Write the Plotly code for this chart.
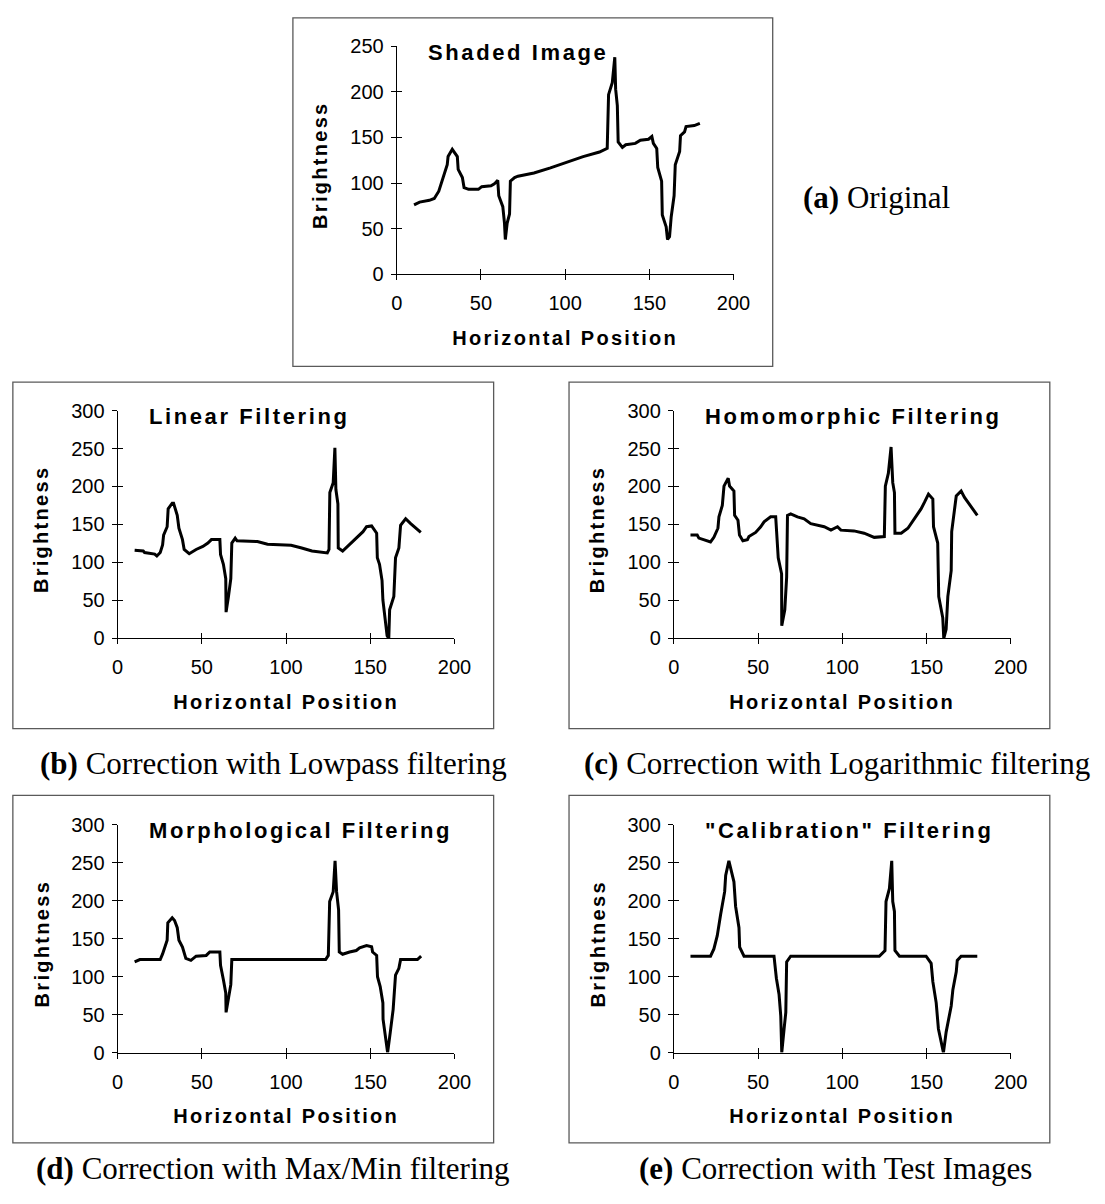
import plotly.graph_objects as go

W, H = 1105, 1204

# ---------------- data ----------------
x_ticks = [0, 50, 100, 150, 200]
y_ticks_a = [0, 50, 100, 150, 200, 250]
y_ticks = [0, 50, 100, 150, 200, 250, 300]

x_a = [10.3, 13.6, 19.4, 22.3, 25, 27, 30, 30.5, 33, 36, 36.5, 39, 40, 42.7, 48.5, 50.5, 56, 58, 60, 60.6,
       63, 64, 64.5, 65.6, 67, 67.5, 70, 72, 81.5, 91.3, 101, 110.7, 120.4, 125, 125.8, 128, 129.5, 130, 131,
       131.5, 134, 136, 141.7, 144.7, 149.5, 151.5, 152.4, 154.4, 155, 157.3, 157.7, 160, 160.8, 162, 163,
       164.7, 165.4, 168, 168.5, 170.9, 171.8, 176.7, 180]
y_a = [76, 79, 81, 83, 91, 102, 120, 129, 137, 129, 115, 106, 95, 93, 93, 96, 97, 99, 103, 86,
       74, 56, 38, 56, 66, 102, 106, 107.5, 111, 116.6, 123, 129, 134, 138, 197, 210, 238, 203, 185,
       145, 139, 142, 143.5, 147, 148, 151, 143.5, 138, 117, 102, 65, 52, 38, 41, 63,
       86, 120, 134.5, 152, 156, 162, 163, 165.5]

x_b = [10.1, 15.2, 16, 22, 23.3, 25.3, 26.7, 27.3, 29.4, 30, 32.4, 33.2, 35.4, 36.4, 38.5, 39.5, 42.5, 46.6,
       50.6, 53.6, 55.7, 60.7, 61.1, 62.8, 64.2, 64.4, 65.8, 67.2, 67.8, 69.8, 70.9, 83, 89, 103, 109.3,
       115.4, 124.5, 125.5, 126, 128, 129, 129.6, 130.8, 131, 133.6, 137.7, 141.7, 145.7, 147.8, 150.8,
       153.8, 154.2, 155.5, 157, 157.5, 159, 160, 161, 161.5, 164, 165, 167, 168, 171, 174, 180]
y_b = [116, 115, 113, 111, 108.5, 113, 123, 136, 147, 170.5, 178, 178, 162, 145, 130, 117, 111.5, 117,
       121, 125.5, 130, 130, 110.5, 97.5, 78.5, 34.5, 55, 78.5, 125.5, 132, 128.5, 127.5, 124, 122.5, 119,
       115, 112.5, 117, 192, 205, 251, 196, 177, 119, 115, 123.5, 132, 140.5, 147, 148,
       138.5, 106, 97.5, 76, 50.5, 22.5, 3.5, 0, 37.5, 55, 106, 119, 149, 157.5, 151, 139.5]

x_c = [9.9, 13.9, 14.9, 17.9, 21.8, 23.8, 26.2, 26.8, 28.8, 29.8, 32.3, 33.1, 35.7, 36.1, 38.1, 39, 41, 43.7,
       44.6, 48.6, 51.6, 53.6, 57.5, 60.5, 61, 62, 64, 64.1, 65.9, 67, 67.5, 69.4, 73.4, 77.4, 81.3, 89.3,
       93.3, 97.2, 99.2, 107, 113, 119, 125, 125.6, 127.4, 129, 130, 131, 131.3, 135, 139, 142.9, 146.8,
       148.8, 151.2, 153.8, 154.2, 156.7, 157.3, 159.7, 160.3, 161.7, 162.7, 164.7, 165, 167.7, 170.6,
       172.6, 176.6, 180.2]
y_c = [136, 136, 132, 130, 127, 133, 145, 160, 175, 200.5, 211, 200.5, 194, 162, 155.5, 136, 128.5, 130,
       134, 139.5, 147, 153.5, 160, 160, 136, 106, 85, 16.5, 37.5, 80.5, 162, 164, 160, 157.5, 151, 147,
       142.5, 147, 142.5, 141.5, 138.5, 133, 134, 200.5, 217.5, 252, 205, 192, 138.5, 138.5, 145, 157.5, 170.5,
       179, 190, 183.5, 147, 125.5, 55, 27, 0, 12, 55, 89, 140.5, 187.5, 194,
       185.5, 172.5, 162]

x_d = [10.1, 13.2, 25.3, 26.7, 29.4, 29.8, 32.4, 33.8, 35.4, 36.4, 38.5, 40.5, 43.5, 46.6, 52.6, 54.7, 60.7,
       61.1, 62.8, 64.2, 64.4, 65.8, 67.2, 67.8, 123.5, 125.1, 125.9, 128, 129.1, 130, 131.2, 131.6, 133.6,
       137.7, 141.7, 143.7, 147.8, 150.8, 151.4, 153.8, 154.3, 155.9, 157.5, 157.6, 159, 160.3, 161.9,
       163.6, 165, 167, 168, 178, 180.2]
y_d = [119.5, 122.5, 122.5, 130, 148, 171, 177.5, 174, 164.5, 148, 139, 124, 121.5, 127, 128, 132.5, 132.5,
       115, 96, 78.5, 53, 74.5, 89.5, 122.5, 122.5, 128, 199, 212, 252.5, 212, 188, 132.5, 129.5,
       132.5, 134.5, 138, 141, 139.5, 132.5, 128, 100, 87, 65.5, 44, 23, 0, 27,
       57, 102, 111, 122.5, 122.5, 127]

x_e = [9.9, 21.8, 23.8, 25.8, 27.8, 30.2, 30.8, 32.7, 35.7, 36.7, 38.7, 39.1, 41.7, 59.5, 60.9, 62.5, 63.5,
       64.1, 65.5, 66.5, 67, 69.4, 122, 125.4, 126, 128, 129.4, 130, 131, 131.3, 134, 149.8, 152.8, 153.8,
       155.8, 157.1, 160.1, 161.7, 164.7, 165.7, 167.7, 168.3, 170.6, 180.2]
y_e = [127, 127, 136.5, 154, 182, 212, 233.5, 252.5, 225, 192.5, 164.5, 139, 127, 127, 98, 76.5, 48.5,
       0, 31.5, 53, 119.5, 127, 127, 134.5, 199, 216, 252.5, 199, 186, 134.5, 127, 127, 117.5, 93.5,
       65.5, 31.5, 0, 27, 61.5, 83, 106.5, 121.5, 127, 127]

titles = ["Shaded Image", "Linear Filtering", "Homomorphic Filtering",
          "Morphological Filtering", "\"Calibration\" Filtering"]
captions = ["<b>(a)</b> Original",
            "<b>(b)</b> Correction with Lowpass filtering",
            "<b>(c)</b> Correction with Logarithmic filtering",
            "<b>(d)</b> Correction with Max/Min filtering",
            "<b>(e)</b> Correction with Test Images"]
x_title = "Horizontal Position"
y_title = "Brightness"

# ---------------- layout geometry (pixels) ----------------
# plot area: (left, right, top, bottom); frame box: (left, right, top, bottom)
panels = [
    dict(x=x_a, y=y_a, ymax=250, yt=y_ticks_a, plot=(399, 743, 36, 268), box=(293, 783, 7, 362),
         cap=(812, 190, "left")),
    dict(x=x_b, y=y_b, ymax=300, yt=y_ticks, plot=(114, 458, 407, 639), box=(7, 498, 378, 731),
         cap=(273, 767, "center")),
    dict(x=x_c, y=y_c, ymax=300, yt=y_ticks, plot=(682, 1026, 407, 639), box=(575, 1066, 378, 731),
         cap=(849, 767, "center")),
    dict(x=x_d, y=y_d, ymax=300, yt=y_ticks, plot=(114, 458, 829, 1061), box=(7, 498, 799, 1153),
         cap=(273, 1179, "center")),
    dict(x=x_e, y=y_e, ymax=300, yt=y_ticks, plot=(682, 1026, 829, 1061), box=(575, 1066, 799, 1153),
         cap=(847, 1179, "center")),
]

SANS = "Liberation Sans, Arial, sans-serif"
SERIF = "Liberation Serif, Times New Roman, serif"


def aid(k):
    return "" if k == 1 else str(k)


fig = go.Figure()
layout = dict(width=W, height=H, autosize=False, margin=dict(l=0, r=0, t=0, b=0),
              paper_bgcolor="white", plot_bgcolor="white", showlegend=False)
annotations = []
shapes = []
n = len(panels)

for i, p in enumerate(panels):
    k = aid(i + 1)
    ko = aid(i + 1 + n)
    L, R, T, B = p["plot"]
    fig.add_trace(go.Scatter(x=p["x"], y=p["y"], mode="lines",
                             line=dict(color="black", width=3),
                             xaxis=f"x{k}", yaxis=f"y{k}", hoverinfo="skip"))
    # helper invisible trace for the overlay axes (inner half of crossing ticks)
    fig.add_trace(go.Scatter(x=[None], y=[None], mode="lines", xaxis=f"x{ko}", yaxis=f"y{ko}",
                             hoverinfo="skip"))
    common = dict(showgrid=False, zeroline=False, fixedrange=True)
    layout[f"xaxis{k}"] = dict(domain=[L / W, R / W], range=[0, 200], anchor=f"y{k}",
                               tickmode="array", tickvals=x_ticks, ticks="outside", ticklen=5,
                               tickcolor="black", tickwidth=1, showline=True, linecolor="black",
                               linewidth=1, tickfont=dict(family=SANS, size=20, color="black"),
                               ticklabelstandoff=6, **common)
    layout[f"yaxis{k}"] = dict(domain=[1 - B / H, 1 - T / H], range=[0, p["ymax"]], anchor=f"x{k}",
                               tickmode="array", tickvals=p["yt"], ticks="outside", ticklen=5,
                               tickcolor="black", tickwidth=1, showline=True, linecolor="black",
                               linewidth=1, tickfont=dict(family=SANS, size=20, color="black"),
                               ticklabelstandoff=3, **common)
    layout[f"xaxis{ko}"] = dict(overlaying=f"x{k}", range=[0, 200], anchor=f"y{ko}",
                                tickmode="array", tickvals=x_ticks, ticks="inside", ticklen=5,
                                tickcolor="black", tickwidth=1, showticklabels=False,
                                showline=False, **common)
    layout[f"yaxis{ko}"] = dict(overlaying=f"y{k}", range=[0, p["ymax"]], anchor=f"x{ko}",
                                tickmode="array", tickvals=p["yt"], ticks="inside", ticklen=5,
                                tickcolor="black", tickwidth=1, showticklabels=False,
                                showline=False, **common)
    ph = B - T
    pw = R - L
    annotations.append(dict(text=titles[i], xref=f"x{k} domain", yref=f"y{k} domain",
                            x=30 / pw, y=1 - 6 / ph, xanchor="left", yanchor="middle", align="left",
                            showarrow=False,
                            font=dict(family=SANS, size=22, color="black", weight=700)))

for i, p in enumerate(panels):
    k = aid(i + 1)
    L, R, T, B = p["plot"]
    ph = B - T
    pw = R - L
    annotations.append(dict(text=x_title, xref=f"x{k} domain", yref=f"y{k} domain",
                            x=0.5, y=-65 / ph, xanchor="center", yanchor="middle", showarrow=False,
                            font=dict(family=SANS, size=20, color="black", weight=700)))
    annotations.append(dict(text=y_title, xref=f"x{k} domain", yref=f"y{k} domain",
                            x=-78 / pw, y=0.5 - 5 / ph, xanchor="center", yanchor="middle",
                            textangle=-90, showarrow=False,
                            font=dict(family=SANS, size=20, color="black", weight=700)))

for i, p in enumerate(panels):
    cx, cy, anc = p["cap"]
    annotations.append(dict(text=captions[i], xref="paper", yref="paper", x=cx / W, y=1 - cy / H,
                            xanchor=anc, yanchor="middle", showarrow=False,
                            font=dict(family=SERIF, size=31, color="black")))
    bl, br, bt, bb = p["box"]
    shapes.append(dict(type="rect", xref="paper", yref="paper", x0=bl / W, x1=br / W,
                       y0=1 - bb / H, y1=1 - bt / H, line=dict(color="#5a5a5a", width=1.3),
                       fillcolor="rgba(0,0,0,0)", layer="below"))

layout["annotations"] = annotations
layout["shapes"] = shapes
fig.update_layout(**layout)

post = """
document.body.style.margin = '0';
var gd = document.getElementById('{plot_id}');
function spaceText() {
  gd.querySelectorAll('.annotation').forEach(function (a) {
    var i = +a.getAttribute('data-index');
    var t = a.querySelector('text');
    if (!t) return;
    if (i < 5) { t.style.letterSpacing = '2.6px'; }
    else if (i < 15) { t.style.letterSpacing = '2.3px'; }
  });
}
spaceText();
gd.on('plotly_afterplot', spaceText);
"""

fig.write_html("out.html", post_script=post, config={"displayModeBar": False, "staticPlot": True})
